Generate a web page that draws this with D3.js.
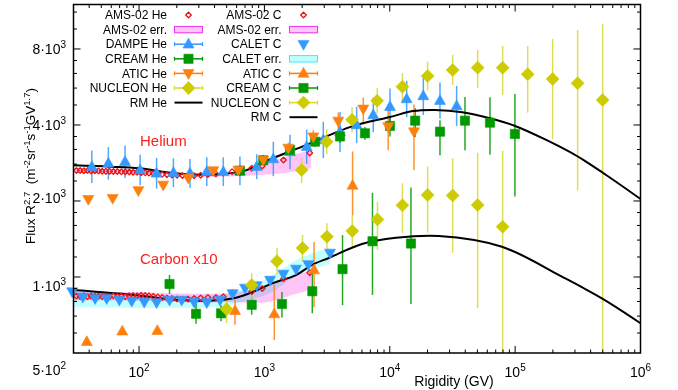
<!DOCTYPE html>
<html>
<head>
<meta charset="utf-8">
<script src="https://cdn.jsdelivr.net/npm/d3@7"></script>
<style>
  body { margin: 0; background: #fff; }
  svg { display: block; font-family: "Liberation Sans", Arial, Helvetica, sans-serif; }
</style>
</head>
<body>
<svg id="chart" width="678" height="390"></svg>
<script>
// ---- data (rigidity in GV, flux x R^2.7; carbon already x10) ----
// errors are relative: hi = f*(1+up), lo = f/(1+dn)

// AMS-02 (He and C share the binning)
const amsR = [31.7, 33.9, 36.3, 38.8, 41.5, 44.4, 47.5, 50.8, 54.3, 58.2, 62.4, 67.1, 72.3, 77.7, 83.5, 89.7, 96.5,
  104, 112, 120, 130, 141, 153, 167, 183, 201, 222, 246, 275, 310, 354, 410, 470, 552, 792, 961, 1419, 2300];
const amsHe = [2640, 2640, 2635, 2640, 2630, 2635, 2630, 2625, 2620, 2620, 2615, 2615, 2610, 2610, 2605, 2600, 2600,
  2590, 2585, 2580, 2570, 2560, 2550, 2540, 2535, 2530, 2525, 2520, 2520, 2530, 2545, 2560, 2580, 2613, 2695, 2753, 2907, 3099];
const amsC = [840, 838, 842, 836, 840, 838, 841, 837, 840, 836, 842, 838, 840, 836, 842, 845, 843,
  846, 844, 842, 838, 834, 830, 826, 822, 818, 815, 818, 822, 826, 830, 830, 835, 867, 875, 900, 985, 1040];

const amsBandR = [30, 100, 300, 500, 920, 1690, 2350];
const amsHeLo = [2600, 2570, 2490, 2500, 2535, 2613, 2694];
const amsHeHi = [2680, 2640, 2570, 2589, 2778, 3042, 3185];
const amsCLo = [808, 805, 792, 795, 790, 850, 895];
const amsCHi = [878, 870, 858, 862, 915, 1010, 1060];

// CALET carbon
const caletR = [29.3, 35.6, 44.6, 55.2, 69.6, 87.5, 110, 138, 175, 219, 275, 347, 443, 558, 700, 868, 1110, 1416, 1786, 2240, 3337];
const caletC = [875, 833, 822, 822, 811, 803, 796, 792, 811, 811, 796, 792, 811, 860, 905, 925, 973, 1028, 1076, 1121, 1245];
const caletBandR = [29.3, 175, 443, 700, 1110, 1786, 3337];
const caletLo = [761, 754, 761, 803, 864, 1009, 1126];
const caletHi = [888, 841, 848, 905, 1000, 1168, 1303];

// DAMPE helium
const dampeR = [42.0, 56.9, 77.3, 102, 138, 188, 255, 347, 470, 638, 868, 1178, 1600, 2173, 2951, 4009, 5445, 7385, 10040, 13640, 18510, 25150, 34140];
const dampeHe = [2735, 2820, 2862, 2654, 2575, 2589, 2575, 2613, 2613, 2630, 2735, 2934, 3128, 3282, 3489, 3753, 4000, 4383, 4727, 5070, 5212, 4993, 4757];
const dampeErr = [0.16, 0.16, 0.16, 0.15, 0.15, 0.14, 0.14, 0.14, 0.14, 0.14, 0.12, 0.17, 0.17, 0.17, 0.18, 0.20, 0.18, 0.17, 0.18, 0.18, 0.19, 0.18, 0.20];

// CREAM helium
const creamHeR = [638, 979, 1600, 2535, 4009, 6340, 10040, 15950, 25150, 39800, 63000, 99600];
const creamHe = [2637, 2899, 3185, 3435, 3602, 3708, 3964, 4160, 3763, 4160, 4085, 3685];
const creamHeUp = [0.05, 0.05, 0.05, 0.05, 0.06, 0.06, 0.09, 0.12, 0.11, 0.24, 0.26, 0.44];
const creamHeDn = [0.05, 0.05, 0.05, 0.05, 0.06, 0.06, 0.10, 0.16, 0.24, 0.31, 0.34, 0.77];

// ATIC helium
const aticHeR = [39.4, 61.6, 98.7, 156, 247, 391, 620, 979, 1552, 2455, 3883, 6150, 9720, 15600];
const aticHe = [2031, 2050, 2201, 2315, 2467, 2641, 2654, 2907, 3243, 3595, 4149, 4631, 3939, 3763];
const aticHeUp = [0.02, 0.02, 0.02, 0.02, 0.02, 0.02, 0.03, 0.04, 0.05, 0.06, 0.08, 0.11, 0.18, 0.28];
const aticHeDn = [0.02, 0.02, 0.02, 0.02, 0.02, 0.02, 0.03, 0.04, 0.05, 0.06, 0.08, 0.15, 0.24, 0.42];

// NUCLEON helium
const nucHeR = [1982, 3139, 5000, 7940, 12620, 20040, 31750, 50250, 79500, 125900, 199000, 315000, 499000];
const nucHe = [2654, 3435, 4198, 4993, 5672, 6254, 6606, 6746, 6746, 6351, 6084, 5852, 5024];
const nucHeUp = [0.116, 0.121, 0.121, 0.126, 0.133, 0.139, 0.147, 0.175, 0.219, 0.295, 0.44, 0.626, 1.0];
const nucHeDn = [0.126, 0.121, 0.121, 0.126, 0.150, 0.143, 0.147, 0.204, 0.283, 0.419, 0.728, 1.662, 9];

// CREAM carbon
const creamCR = [175, 285, 451, 792, 1380, 2410, 4200, 7280, 14760];
const creamC = [938, 715, 718, 776, 782, 878, 1074, 1385, 1357];
const creamCUp = [0.086, 0.095, 0.076, 0.076, 0.116, 0.233, 0.364, 0.556, 0.667];
const creamCDn = [0.095, 0.095, 0.076, 0.095, 0.131, 0.222, 0.389, 0.632, 0.736];

// ATIC carbon
const aticCR = [38.3, 73.5, 140, 583, 1199, 2490, 5050];
const aticC = [554, 610, 613, 735, 714, 1066, 2304];
const aticCUp = [0.02, 0.02, 0.02, 0.105, 0.303, 0.291, 0.364];
const aticCDn = [0.02, 0.02, 0.02, 0.136, 0.268, 0.401, 0.315];

// NUCLEON carbon
const nucCR = [499, 792, 1259, 2014, 3155, 5020, 7980, 12620, 20040, 31750, 50250, 79500];
const nucC = [745, 930, 1155, 1303, 1444, 1521, 1690, 1923, 2113, 2103, 1928, 1582];
const nucCUp = [0.105, 0.113, 0.128, 0.126, 0.130, 0.157, 0.176, 0.222, 0.295, 0.404, 0.611, 0.995];
const nucCDn = [0.136, 0.147, 0.134, 0.133, 0.129, 0.171, 0.321, 0.284, 0.411, 0.685, 1.565, 2.16];

// RM model curves
const rmHeR = [30, 60, 100, 200, 400, 700, 1000, 2000, 5000, 10000, 15300, 23000, 38000, 63000, 100000, 177000, 311000, 532000, 1000000];
const rmHe = [2770, 2735, 2695, 2570, 2547, 2637, 2862, 3283, 3950, 4300, 4540, 4586, 4495, 4252, 3964, 3489, 3014, 2535, 2036];
const rmCR = [30, 100, 173, 361, 594, 857, 1151, 1786, 2400, 3337, 6000, 11200, 24660, 78500, 236000, 492000, 1000000];
const rmC = [888, 845, 816, 806, 828, 883, 944, 1018, 1116, 1195, 1351, 1430, 1454, 1318, 1003, 823, 656];

const xMajor = [1e2, 1e3, 1e4, 1e5, 1e6];
const yMajor = [1000, 2000, 4000, 8000];
const yLabelMant = { 500: '5', 1000: '1', 2000: '2', 4000: '4', 8000: '8' };

// ---- colours ----
const cRed = '#ee1111', cBlue = '#3399ff', cGreen = '#009900', cOrange = '#ff7f0e', cYellow = '#cccc00';
const cPink = '#ffc4f8', cCyan = '#c4ffff';

// ---- scales ----
const svg = d3.select('#chart');
const x = d3.scaleLog().domain([30, 1e6]).range([73.5, 640.5]);
const y = d3.scaleLog().domain([500, 12000]).range([353, 4.5]);
const [x0, x1] = x.range(), [yb, yt] = y.range();

svg.append('defs').append('clipPath').attr('id', 'plotClip')
  .append('rect').attr('x', x0).attr('y', yt).attr('width', x1 - x0).attr('height', yb - yt);

const plot = svg.append('g');
const clipped = plot.append('g').attr('clip-path', 'url(#plotClip)');

// ---- marker shapes ----
const shapes = {
  triUp: (px, py) => `M${px},${py - 6}L${px + 5.5},${py + 3.8}L${px - 5.5},${py + 3.8}Z`,
  triDown: (px, py) => `M${px},${py + 6}L${px + 5.5},${py - 3.8}L${px - 5.5},${py - 3.8}Z`,
  square: (px, py) => `M${px - 4.6},${py - 4.6}h9.2v9.2h-9.2Z`,
  diamond: (px, py) => `M${px},${py - 6.5}L${px + 6.5},${py}L${px},${py + 6.5}L${px - 6.5},${py}Z`,
  ams: (px, py) => `M${px},${py - 2.8}L${px + 2.8},${py}L${px},${py + 2.8}L${px - 2.8},${py}Z`
};

function drawMarkers(g, R, F, shape, color) {
  g.append('g').selectAll('path').data(R.map((r, i) => [r, F[i]])).join('path')
    .attr('d', d => shapes[shape](x(d[0]), y(d[1])))
    .attr('fill', shape === 'ams' ? 'none' : color)
    .attr('stroke', color)
    .attr('stroke-width', shape === 'ams' ? 1.3 : 0.6)
    .attr('stroke-linejoin', 'round');
}

function drawBars(R, F, up, dn, color) {
  clipped.append('g').selectAll('line').data(R.map((r, i) => [r, F[i], up[i], dn[i]])).join('line')
    .attr('x1', d => x(d[0])).attr('x2', d => x(d[0]))
    .attr('y1', d => y(d[1] * (1 + d[2])))
    .attr('y2', d => Math.min(yb + 5, y(Math.max(d[1] / (1 + d[3]), 100))))
    .attr('stroke', color).attr('stroke-width', 1.5).attr('opacity', 0.85);
}

function drawBand(R, lo, hi, fill) {
  const area = d3.area()
    .x(d => x(d[0])).y0(d => y(d[1])).y1(d => y(d[2]))
    .curve(d3.curveMonotoneX);
  clipped.append('path')
    .datum(R.map((r, i) => [r, lo[i], hi[i]]))
    .attr('d', area)
    .attr('fill', fill)
    .style('mix-blend-mode', 'multiply');
}

function drawModel(R, F) {
  const line = d3.line().x(d => x(d[0])).y(d => y(d[1])).curve(d3.curveCatmullRom.alpha(0.5));
  clipped.append('path').datum(R.map((r, i) => [r, F[i]]))
    .attr('d', line).attr('fill', 'none').attr('stroke', '#000').attr('stroke-width', 2);
}

// ---- bands ----
drawBand(amsBandR, amsHeLo, amsHeHi, cPink);
drawBand(amsBandR, amsCLo, amsCHi, cPink);
drawBand(caletBandR, caletLo, caletHi, cCyan);

// ---- helium ----
drawMarkers(plot, amsR, amsHe, 'ams', cRed);
drawBars(dampeR, dampeHe, dampeErr, dampeErr, cBlue);
drawMarkers(plot, dampeR, dampeHe, 'triUp', cBlue);
drawBars(creamHeR, creamHe, creamHeUp, creamHeDn, cGreen);
drawMarkers(plot, creamHeR, creamHe, 'square', cGreen);
drawBars(aticHeR, aticHe, aticHeUp, aticHeDn, cOrange);
drawMarkers(plot, aticHeR, aticHe, 'triDown', cOrange);
drawBars(nucHeR, nucHe, nucHeUp, nucHeDn, '#d8d83a');
drawMarkers(plot, nucHeR, nucHe, 'diamond', cYellow);
drawModel(rmHeR, rmHe);

// ---- carbon ----
drawMarkers(plot, amsR, amsC, 'ams', cRed);
drawMarkers(plot, caletR, caletC, 'triDown', cBlue);
drawBars(aticCR, aticC, aticCUp, aticCDn, cOrange);
drawMarkers(plot, aticCR, aticC, 'triUp', cOrange);
drawBars(creamCR, creamC, creamCUp, creamCDn, cGreen);
drawMarkers(plot, creamCR, creamC, 'square', cGreen);
drawBars(nucCR, nucC, nucCUp, nucCDn, '#d8d83a');
drawMarkers(plot, nucCR, nucC, 'diamond', cYellow);
drawModel(rmCR, rmC);

// ---- frame and ticks ----
const axes = svg.append('g').attr('stroke', '#000');
axes.append('rect').attr('x', x0).attr('y', yt).attr('width', x1 - x0).attr('height', yb - yt)
  .attr('fill', 'none').attr('stroke-width', 1.5);

const xMinor = [];
for (let e = 1; e <= 5; e++) for (let k = 2; k <= 9; k++) {
  const v = k * Math.pow(10, e);
  if (v >= 30 && v <= 1e6) xMinor.push(v);
}
xMinor.forEach(v => {
  axes.append('line').attr('x1', x(v)).attr('x2', x(v)).attr('y1', yb).attr('y2', yb - 3.5);
  axes.append('line').attr('x1', x(v)).attr('x2', x(v)).attr('y1', yt).attr('y2', yt + 3.5);
});
xMajor.forEach(v => {
  axes.append('line').attr('x1', x(v)).attr('x2', x(v)).attr('y1', yb).attr('y2', yb - 7);
  axes.append('line').attr('x1', x(v)).attr('x2', x(v)).attr('y1', yt).attr('y2', yt + 7);
});

const yMinor = [];
for (let n = 0; n < 5; n++) for (let k = 1; k <= 4; k++) {
  const v = 500 * Math.pow(2, n) * (1 + k / 5);
  if (v < 12000) yMinor.push(v);
}
yMinor.forEach(v => {
  axes.append('line').attr('x1', x0).attr('x2', x0 + 3.5).attr('y1', y(v)).attr('y2', y(v));
  axes.append('line').attr('x1', x1).attr('x2', x1 - 3.5).attr('y1', y(v)).attr('y2', y(v));
});
yMajor.forEach(v => {
  axes.append('line').attr('x1', x0).attr('x2', x0 + 7).attr('y1', y(v)).attr('y2', y(v));
  axes.append('line').attr('x1', x1).attr('x2', x1 - 7).attr('y1', y(v)).attr('y2', y(v));
});

// ---- tick labels ----
const labels = svg.append('g').attr('fill', '#000');
xMajor.forEach(v => {
  const t = labels.append('text').attr('x', x(v)).attr('y', 377).attr('text-anchor', 'middle').attr('font-size', 14);
  t.append('tspan').text('10');
  t.append('tspan').attr('font-size', 10).attr('dy', -6).text(Math.round(Math.log10(v)));
});
// the original figure sets the lower y labels a little below their ticks
const yLabelNudge = { 500: 17, 1000: 9, 2000: -3, 4000: 0, 8000: 0 };
[500].concat(yMajor).forEach(v => {
  const t = labels.append('text').attr('x', 66).attr('y', y(v) + 5 + yLabelNudge[v])
    .attr('text-anchor', 'end').attr('font-size', 14);
  t.append('tspan').text(yLabelMant[v] + '\u00b710');
  t.append('tspan').attr('font-size', 10).attr('dy', -6).text(v === 500 ? '2' : '3');
});

// axis titles
labels.append('text').attr('x', 454).attr('y', 386).attr('text-anchor', 'middle').attr('font-size', 14)
  .text('Rigidity (GV)');
const yt2 = labels.append('text').attr('transform', 'translate(35,166) rotate(-90)')
  .attr('text-anchor', 'middle').attr('font-size', 13.5);
[['Flux R', 0], ['2.7', 1], ['  (m', 0], ['-2', 1], ['sr', 0], ['-1', 1], ['s', 0], ['-1', 1], ['GV', 0], ['1.7', 1], [')', 0]]
  .forEach(([s, sup], i, arr) => {
    const prevSup = i > 0 ? arr[i - 1][1] : 0;
    yt2.append('tspan')
      .attr('font-size', sup ? 9.5 : 13.5)
      .attr('dy', sup && !prevSup ? -5.5 : (!sup && prevSup ? 5.5 : 0))
      .style('white-space', 'pre')
      .text(s);
  });

// element labels
labels.append('text').attr('x', 140).attr('y', 145.5).attr('font-size', 15).attr('fill', '#ff2020').text('Helium');
labels.append('text').attr('x', 140).attr('y', 263.5).attr('font-size', 15).attr('fill', '#ff2020').text('Carbon x10');

// ---- legend ----
const legendCols = [
  { tx: 167, sx: 188.5, items: [
    ['AMS-02 He', 'ams', cRed], ['AMS-02 err.', 'boxPink', null], ['DAMPE He', 'triUp', cBlue],
    ['CREAM He', 'square', cGreen], ['ATIC He', 'triDown', cOrange], ['NUCLEON He', 'diamond', cYellow], ['RM He', 'line', '#000']] },
  { tx: 281.5, sx: 303.5, items: [
    ['AMS-02 C', 'ams', cRed], ['AMS-02 err.', 'boxPink', null], ['CALET C', 'triDownOnly', cBlue],
    ['CALET err.', 'boxCyan', null], ['ATIC C', 'triUp', cOrange], ['CREAM C', 'square', cGreen],
    ['NUCLEON C', 'diamond', cYellow], ['RM C', 'line', '#000']] }
];
const legend = svg.append('g');
legendCols.forEach(col => {
  col.items.forEach(([name, kind, color], i) => {
    const ly = 15 + i * 14.6;
    legend.append('text').attr('x', col.tx).attr('y', ly + 4.2).attr('text-anchor', 'end')
      .attr('font-size', 12).text(name);
    const sx = col.sx, half = 14;
    if (kind === 'boxPink' || kind === 'boxCyan') {
      legend.append('rect').attr('x', sx - half).attr('y', ly - 3.2).attr('width', 2 * half).attr('height', 6.4)
        .attr('fill', kind === 'boxPink' ? cPink : cCyan)
        .attr('stroke', kind === 'boxPink' ? '#ee33ee' : '#33eeff').attr('stroke-width', 1);
    } else if (kind === 'line') {
      legend.append('line').attr('x1', sx - half).attr('x2', sx + half).attr('y1', ly).attr('y2', ly)
        .attr('stroke', color).attr('stroke-width', 2);
    } else if (kind === 'ams') {
      drawMarkersAt(legend, sx, ly, 'ams', color);
    } else if (kind === 'triDownOnly') {
      drawMarkersAt(legend, sx, ly, 'triDown', color);
    } else {
      const lc = kind === 'diamond' ? '#d8d83a' : color;
      legend.append('line').attr('x1', sx - half).attr('x2', sx + half).attr('y1', ly).attr('y2', ly)
        .attr('stroke', lc).attr('stroke-width', 1.5);
      [sx - half, sx + half].forEach(cx => legend.append('line').attr('x1', cx).attr('x2', cx)
        .attr('y1', ly - 2).attr('y2', ly + 2).attr('stroke', lc).attr('stroke-width', 1.2));
      drawMarkersAt(legend, sx, ly, kind, color);
    }
  });
});

function drawMarkersAt(g, px, py, shape, color) {
  g.append('path').attr('d', shapes[shape](px, py))
    .attr('fill', shape === 'ams' ? 'none' : color)
    .attr('stroke', color).attr('stroke-width', shape === 'ams' ? 1.3 : 0.6);
}
</script>
</body>
</html>
